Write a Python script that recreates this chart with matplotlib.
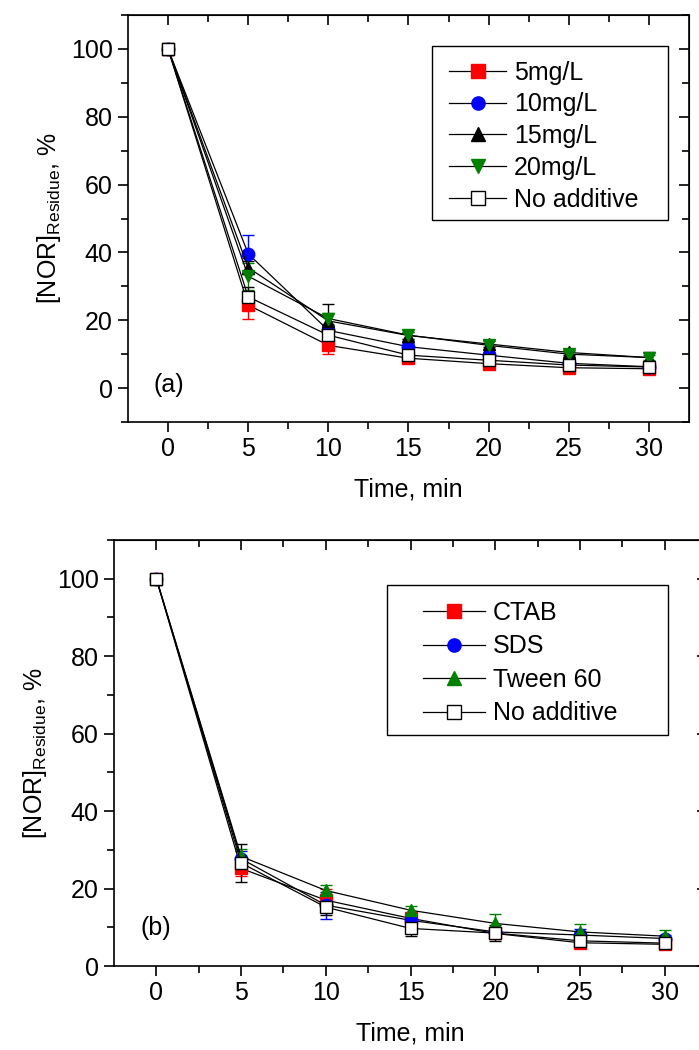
import matplotlib.pyplot as plt
from matplotlib.lines import Line2D
from matplotlib.patches import Rectangle
import numpy as np

plt.rcParams['font.family'] = ['Liberation Sans', 'DejaVu Sans']
plt.rcParams['mathtext.fontset'] = 'custom'
plt.rcParams['mathtext.rm'] = 'Liberation Sans'
plt.rcParams['mathtext.it'] = 'Liberation Sans'

time = [0, 5, 10, 15, 20, 25, 30]

# panel (a): additive concentration
labels_a = ['5mg/L', '10mg/L', '15mg/L', '20mg/L', 'No additive']
conc_5 = [100, 24.5, 12.6, 8.8, 7.2, 6.0, 5.7]
conc_10 = [100, 39.6, 17.0, 12.2, 9.7, 7.3, 6.3]
conc_15 = [100, 35.5, 19.8, 15.5, 13.0, 10.5, 9.0]
conc_20 = [100, 33.0, 20.5, 15.6, 12.6, 10.0, 9.0]
none_a = [100, 26.9, 15.6, 9.7, 8.2, 6.8, 6.2]
err_5 = [0, 4.0, 2.5, 1.2, 1.0, 0.8, 0.6]
err_10 = [0, 5.4, 1.5, 1.0, 0.8, 0.6, 0.6]
err_15 = [0, 2.0, 5.0, 1.0, 1.0, 0.8, 1.5]
err_20 = [0, 4.0, 1.5, 1.0, 1.5, 0.8, 0.8]
err_na = [0, 3.0, 2.0, 1.0, 1.0, 0.8, 1.0]

# panel (b): surfactant type
labels_b = ['CTAB', 'SDS', 'Tween 60', 'No additive']
ctab = [100, 25.2, 17.0, 12.3, 8.4, 6.0, 5.6]
sds = [100, 27.7, 15.7, 11.8, 8.8, 8.0, 7.1]
tween = [100, 28.3, 19.5, 14.4, 11.0, 8.8, 7.7]
none_b = [100, 26.6, 15.2, 9.7, 8.5, 6.5, 5.9]
err_ctab = [0, 2.0, 3.0, 1.0, 1.0, 1.0, 1.0]
err_sds = [0, 2.0, 3.5, 1.0, 1.0, 1.5, 1.0]
err_tween = [0, 2.0, 1.5, 1.0, 2.5, 2.0, 1.5]
err_nb = [0, 5.0, 2.0, 2.0, 2.0, 1.5, 1.0]

FS = 18

fig = plt.figure(figsize=(6.99, 10.5), dpi=100)
ax1 = fig.add_axes([0.1831, 0.5981, 0.8026, 0.3876])
ax2 = fig.add_axes([0.1631, 0.0800, 0.8484, 0.4057])


def series(ax, y, e, color, marker, label, face=None):
    ax.errorbar(time, y, yerr=e, color='black', lw=0.9, ecolor=color,
                elinewidth=1, capsize=4, capthick=1, marker=marker,
                markersize=9, markerfacecolor=face or color,
                markeredgecolor='black' if face else color,
                markeredgewidth=1)
    return Line2D([], [], color='black', lw=0.9, marker=marker, markersize=9.5,
                  markerfacecolor=face or color,
                  markeredgecolor='black' if face else color,
                  markeredgewidth=1, label=label)


def style(ax, ylim, yticks, letter):
    ax.set_xlim(-2.5, 32.5)
    ax.set_xticks([0, 5, 10, 15, 20, 25, 30])
    ax.set_xticks(np.arange(2.5, 32.5, 5), minor=True)
    ax.set_yticks(yticks)
    ax.set_yticks([v for v in range(-10, 111, 10) if ylim[0] <= v <= ylim[1]], minor=True)
    ax.set_ylim(*ylim)
    ax.tick_params(which='major', direction='out', length=7, width=1.2,
                   labelsize=FS, pad=4)
    ax.tick_params(which='minor', direction='out', length=5, width=1.2)
    for s in ax.spines.values():
        s.set_linewidth(1.2)
    top = ax.secondary_xaxis('top')
    top.set_xticks([0, 5, 10, 15, 20, 25, 30], labels=[])
    top.set_xticks(np.arange(2.5, 32.5, 5), minor=True)
    top.tick_params(which='major', direction='in', length=7, width=1.2)
    top.tick_params(which='minor', direction='in', length=5, width=1.2)
    right = ax.secondary_yaxis('right')
    right.set_yticks(yticks, labels=[])
    right.set_yticks([v for v in range(-10, 111, 10) if ylim[0] <= v <= ylim[1]], minor=True)
    right.tick_params(which='major', direction='in', length=7, width=1.2)
    right.tick_params(which='minor', direction='in', length=5, width=1.2)
    ax.set_xlabel('Time, min', fontsize=FS, labelpad=12)
    ax.set_ylabel('[NOR]$_{\\mathrm{Residue}}$, %', fontsize=FS, labelpad=6)
    ax.text(0.045, 0.09, letter, transform=ax.transAxes, fontsize=FS,
            va='center', ha='left')


def boxed_legend(ax, handles, box, anchor, hl, ls):
    x0, y0, x1, y1 = box
    ax.add_patch(Rectangle((x0, y0), x1 - x0, y1 - y0, transform=ax.transAxes,
                           facecolor='white', edgecolor='black', lw=1.0,
                           zorder=4))
    leg = ax.legend(handles=handles, loc='upper left', bbox_to_anchor=anchor,
                    fontsize=FS, frameon=False, handlelength=hl,
                    handletextpad=0.3, labelspacing=ls, borderpad=0,
                    borderaxespad=0)
    leg.set_zorder(5)


h = [series(ax1, conc_5, err_5, 'red', 's', labels_a[0]),
     series(ax1, conc_10, err_10, 'blue', 'o', labels_a[1]),
     series(ax1, conc_15, err_15, 'black', '^', labels_a[2]),
     series(ax1, conc_20, err_20, 'green', 'v', labels_a[3]),
     series(ax1, none_a, err_na, 'black', 's', labels_a[4], face='white')]
style(ax1, (-10, 110), [0, 20, 40, 60, 80, 100], '(a)')
boxed_legend(ax1, h, (0.542, 0.496, 0.9626, 0.924), (0.572, 0.888), 2.3, 0.31)

h = [series(ax2, ctab, err_ctab, 'red', 's', labels_b[0]),
     series(ax2, sds, err_sds, 'blue', 'o', labels_b[1]),
     series(ax2, tween, err_tween, 'green', '^', labels_b[2]),
     series(ax2, none_b, err_nb, 'black', 's', labels_b[3], face='white')]
style(ax2, (0, 110), [0, 20, 40, 60, 80, 100], '(b)')
boxed_legend(ax2, h, (0.4604, 0.542, 0.934, 0.894), (0.521, 0.857), 2.5, 0.38)

fig.savefig('out.png', dpi=100)
